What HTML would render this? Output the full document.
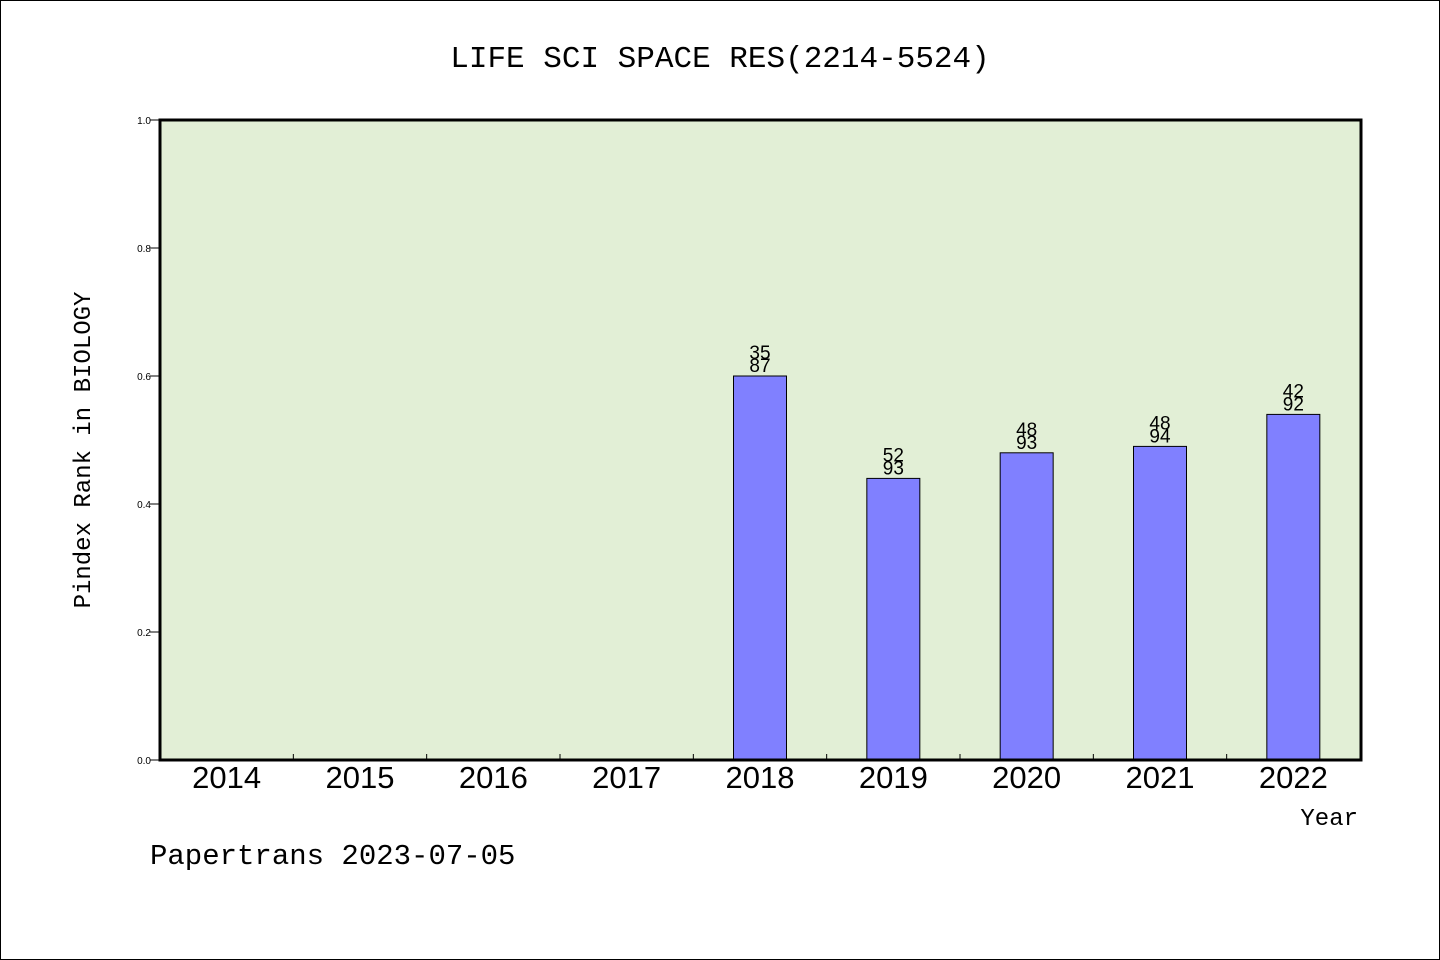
<!DOCTYPE html>
<html><head><meta charset="utf-8"><style>
body{margin:0;background:#fff}
svg{display:block}
</style></head><body>
<svg id="chart" width="1440" height="960" xmlns="http://www.w3.org/2000/svg">
<rect x="0.5" y="0.5" width="1439" height="959" fill="#fff" stroke="#000"/>
<text x="720" y="67" text-anchor="middle" font-family="Liberation Mono, monospace" font-size="31">LIFE SCI SPACE RES(2214-5524)</text>
<rect x="160" y="120" width="1201" height="640" fill="#e2efd6"/>
<g id="bars"></g>
<g id="axes"></g>
<rect x="160" y="120" width="1201" height="640" fill="none" stroke="#000" stroke-width="3"/>
<text transform="translate(90,450) rotate(-90)" text-anchor="middle" font-family="Liberation Mono, monospace" font-size="24">Pindex Rank in BIOLOGY</text>
<text x="1358" y="825" text-anchor="end" font-family="Liberation Mono, monospace" font-size="24">Year</text>
<text x="150" y="864" font-family="Liberation Mono, monospace" font-size="29">Papertrans 2023-07-05</text>
</svg>
<script>
const categories=["2014","2015","2016","2017","2018","2019","2020","2021","2022"];
const values=[null,null,null,null,0.6,0.44,0.48,0.49,0.54];
const ranks=[null,null,null,null,"35","52","48","48","42"];
const totals=[null,null,null,null,"87","93","93","94","92"];
const yTicks=[0,0.2,0.4,0.6,0.8,1.0];
const NS="http://www.w3.org/2000/svg";
const X0=160,X1=1360,Y0=760,Y1=120;
const slot=(X1-X0)/categories.length;
const xc=i=>X0+slot*(i+0.5);
const y=v=>Y0-(v-0)/(1-0)*(Y0-Y1);
function mk(t,a,p){const e=document.createElementNS(NS,t);for(const k in a)e.setAttribute(k,a[k]);p.appendChild(e);return e;}
const bars=document.getElementById('bars'),axes=document.getElementById('axes');
categories.forEach((c,i)=>{
  const t=mk('text',{x:xc(i),y:788,'text-anchor':'middle','font-family':'Liberation Sans, sans-serif','font-size':31},axes);
  t.textContent=c;
  
  
  if(i>0){const l=mk('line',{x1:X0+slot*i,x2:X0+slot*i,y1:Y0,y2:Y0-6,stroke:'#000'},axes);
    
    }
  const v=values[i];
  if(v!=null){
    const r=mk('rect',{x:xc(i)-26.5,y:y(v),width:53,height:Y0-y(v),fill:'#8080ff',stroke:'#000','stroke-width':1},bars);
    
    
    const a=mk('text',{x:xc(i),y:y(v)-17,'text-anchor':'middle','font-family':'Liberation Sans, sans-serif','font-size':19},bars);
    a.textContent=ranks[i];
    
    
    const b=mk('text',{x:xc(i),y:y(v)-4,'text-anchor':'middle','font-family':'Liberation Sans, sans-serif','font-size':19},bars);
    b.textContent=totals[i];
    
    
  }
});
yTicks.forEach(v=>{
  const l=mk('line',{x1:150,x2:160,y1:y(v),y2:y(v),stroke:'#000'},axes);
  
  
  const t=mk('text',{x:151,y:y(v)+4,'text-anchor':'end','font-family':'Liberation Sans, sans-serif','font-size':10},axes);
  t.textContent=v.toFixed(1);
  
  
});
</script>
</body></html>
